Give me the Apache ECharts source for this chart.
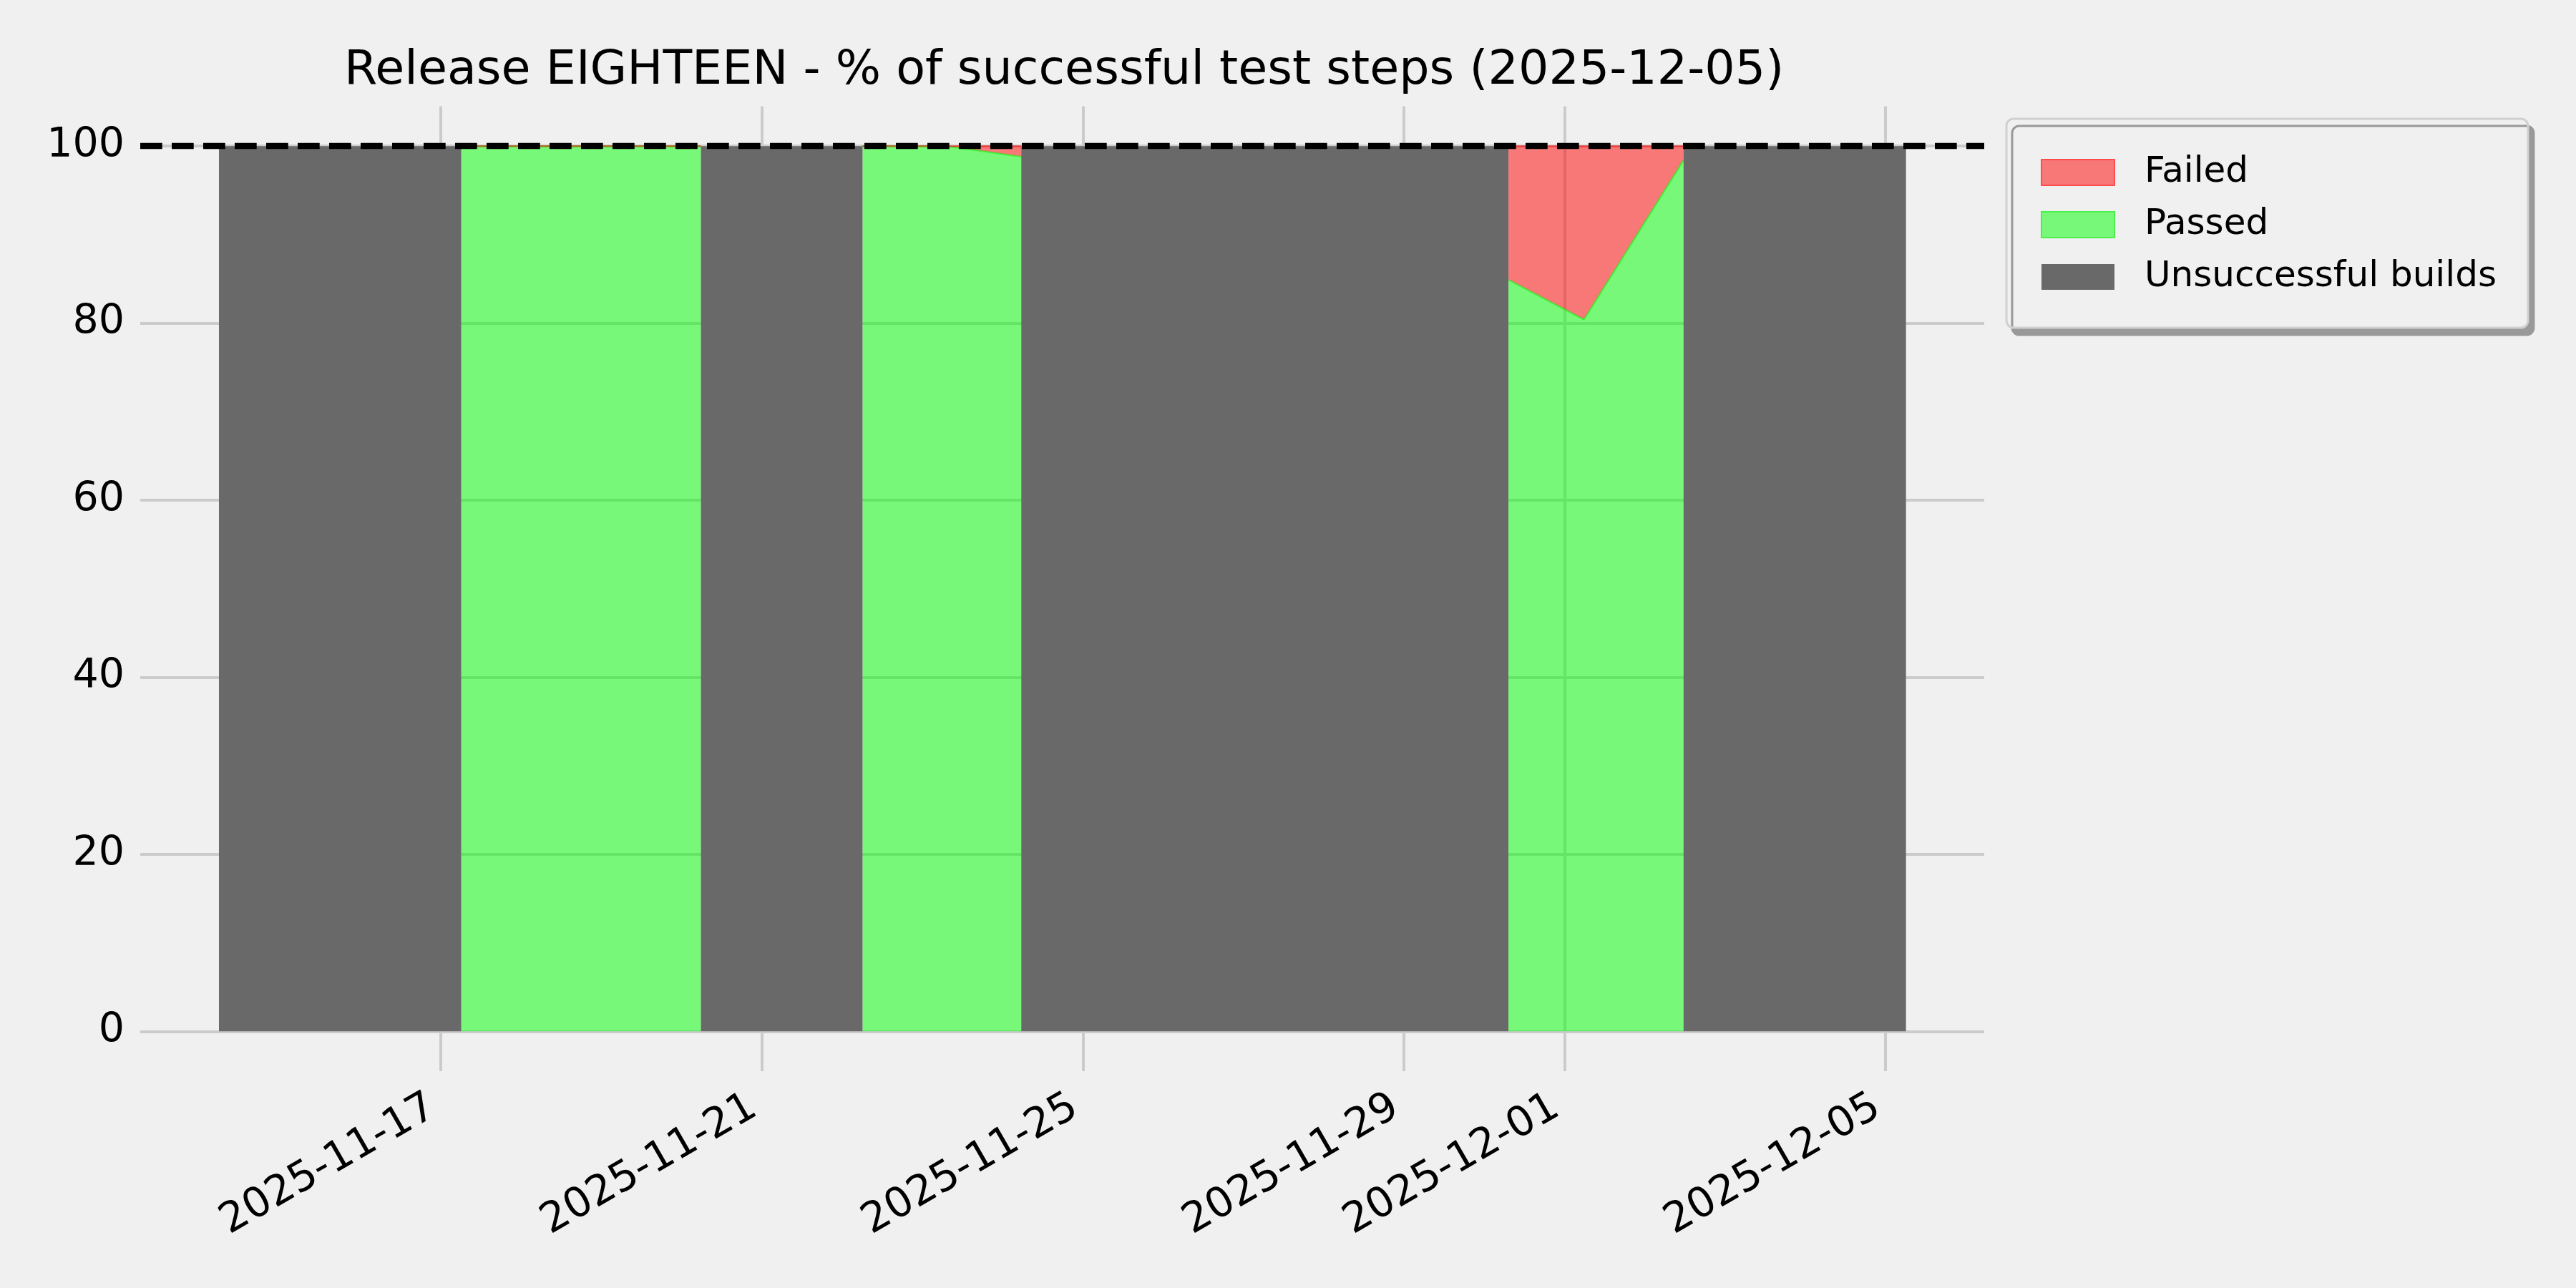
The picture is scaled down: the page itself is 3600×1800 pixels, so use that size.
<!DOCTYPE html>
<html>
<head>
<meta charset="utf-8">
<script src="https://cdn.jsdelivr.net/npm/echarts@6/dist/echarts.min.js"></script>
<style>
  html, body { margin: 0; padding: 0; background: #f0f0f0; }
  #chart { width: 3600px; height: 1800px; }
</style>
</head>
<body>
<div id="chart"></div>
<script>
// ---- data ----
const titleText = 'Release EIGHTEEN - % of successful test steps (2025-12-05)';
const seriesNames = ['Failed', 'Passed', 'Unsuccessful builds'];

// Builds with test results (gaps marked with '-')
const buildTimes = ['2025-11-17 06:06', '2025-11-20 05:46', '2025-11-21 00:00',
                    '2025-11-22 06:06', '2025-11-23 07:21', '2025-11-24 05:34', '2025-11-27 00:00',
                    '2025-11-30 07:16', '2025-12-01 05:51', '2025-12-02 11:37'];
const passedPct = [100, 100, '-', 100, 100, 98.8, '-', 84.9, 80.4, 98.4];
const failedPct = [0, 0, '-', 0, 0, 1.2, '-', 15.1, 19.6, 1.6];

// Periods of unsuccessful builds
const unsuccessfulStart = ['2025-11-14 05:38', '2025-11-20 05:46', '2025-11-24 05:34', '2025-12-02 11:37'];
const unsuccessfulEnd   = ['2025-11-17 06:06', '2025-11-22 06:06', '2025-11-30 07:16', '2025-12-05 06:09'];
const unsuccessfulPct   = [100, 100, 100, 100];

const xTickDates = ['2025-11-17', '2025-11-21', '2025-11-25', '2025-11-29', '2025-12-01', '2025-12-05'];
const yTicks = [0, 20, 40, 60, 80, 100];
const targetLine = 100;
const xRange = ['2025-11-13 06:06', '2025-12-06 05:33'];
const yRange = [-4.5, 104.5];

// ---- helpers ----
function toTs(s) {
  const m = s.match(/(\d+)-(\d+)-(\d+)(?:\s+(\d+):(\d+))?/);
  return new Date(+m[1], +m[2] - 1, +m[3], m[4] ? +m[4] : 0, m[5] ? +m[5] : 0).getTime();
}
function pad(n) { return (n < 10 ? '0' : '') + n; }
function fmtDate(v) {
  const d = new Date(v);
  return d.getFullYear() + '-' + pad(d.getMonth() + 1) + '-' + pad(d.getDate());
}

const passedData = buildTimes.map((t, i) => [toTs(t), passedPct[i]]);
const failedData = buildTimes.map((t, i) => [toTs(t), failedPct[i]]);
const unsuccessfulData = [];
unsuccessfulStart.forEach((s, i) => {
  const a = toTs(s), b = toTs(unsuccessfulEnd[i]);
  unsuccessfulData.push([a, unsuccessfulPct[i]], [b, unsuccessfulPct[i]], [b + 1, '-']);
});
const xTickValues = xTickDates.map(toTs);
const xMin = toTs(xRange[0]), xMax = toTs(xRange[1]);

const FONT = 'DejaVu Sans';
const GRID = '#cbcbcb';

const chart = echarts.init(document.getElementById('chart'), null, { renderer: 'canvas' });
chart.setOption({
  animation: false,
  backgroundColor: '#f0f0f0',
  title: {
    text: titleText,
    left: 481,
    top: 67,
    padding: 0,
    textStyle: { fontFamily: FONT, fontSize: 66.7, fontWeight: 'normal', color: '#000', lineHeight: 66 }
  },
  legend: {
    orient: 'vertical',
    left: 2804,
    top: 166,
    padding: [50, 44, 46, 48],
    itemWidth: 102,
    itemHeight: 36,
    itemGap: 23,
    icon: 'rect',
    backgroundColor: '#f0f0f0',
    borderColor: '#d0d0d0',
    borderWidth: 3,
    borderRadius: 10,
    shadowColor: '#999999',
    shadowBlur: 0,
    shadowOffsetX: 8,
    shadowOffsetY: 10,
    textStyle: { fontFamily: FONT, fontSize: 50, color: '#000', padding: [0, 0, 0, 37] },
    data: [
      { name: seriesNames[0], itemStyle: { color: '#f87878', borderColor: '#ff4c4c', borderWidth: 2 } },
      { name: seriesNames[1], itemStyle: { color: '#78f878', borderColor: '#4cf04c', borderWidth: 2 } },
      { name: seriesNames[2], itemStyle: { color: '#696969', borderWidth: 0 } }
    ]
  },
  grid: { left: 196, right: 827, top: 148.5, bottom: 303, containLabel: false },
  xAxis: [
    {
      // visible axis: tick labels and vertical grid lines
      type: 'value',
      position: 'bottom',
      min: xMin,
      max: xMax,
      axisLine: { show: false, onZero: false },
      axisTick: { show: false, customValues: xTickValues },
      splitLine: { show: true, lineStyle: { color: GRID, width: 4 } },
      axisLabel: {
        customValues: xTickValues,
        formatter: fmtDate,
        rotate: 30,
        margin: 40,
        padding: [0, 13, 0, 0],
        fontFamily: FONT,
        fontSize: 58,
        color: '#000',
        hideOverlap: false
      }
    },
    {
      // data axis (time), same range, drawn invisibly
      type: 'time',
      position: 'bottom',
      min: xMin,
      max: xMax,
      show: false,
      axisLine: { show: false, onZero: false },
      splitLine: { show: false }
    }
  ],
  yAxis: {
    type: 'value',
    min: yRange[0],
    max: yRange[1],
    axisLine: { show: false },
    axisTick: { show: false, customValues: yTicks },
    splitLine: { show: true, lineStyle: { color: GRID, width: 4 } },
    axisLabel: {
      customValues: yTicks,
      margin: 22,
      fontFamily: FONT,
      fontSize: 57,
      color: '#000'
    }
  },
  series: [
    {
      name: seriesNames[1],
      type: 'line',
      xAxisIndex: 1,
      stack: 'tests',
      data: passedData,
      symbol: 'none',
      connectNulls: false,
      z: 2,
      lineStyle: { color: 'rgba(0,255,0,0.5)', width: 2.5 },
      itemStyle: { color: '#78f878' },
      areaStyle: { color: 'rgba(0,255,0,0.5)', opacity: 1 }
    },
    {
      name: seriesNames[0],
      type: 'line',
      xAxisIndex: 1,
      stack: 'tests',
      data: failedData,
      symbol: 'none',
      connectNulls: false,
      z: 2,
      lineStyle: { color: 'rgba(255,0,0,0.5)', width: 2.5 },
      itemStyle: { color: '#f87878' },
      areaStyle: { color: 'rgba(255,0,0,0.5)', opacity: 1 }
    },
    {
      name: seriesNames[2],
      type: 'line',
      xAxisIndex: 1,
      data: unsuccessfulData,
      symbol: 'none',
      connectNulls: false,
      z: 3,
      lineStyle: { width: 0, color: '#696969' },
      itemStyle: { color: '#696969' },
      areaStyle: { color: '#696969', opacity: 1 },
      markLine: {
        silent: true,
        symbol: 'none',
        label: { show: false },
        lineStyle: { color: '#000', width: 8.3, type: [30.7, 13.3], opacity: 1 },
        data: [{ yAxis: targetLine }]
      }
    }
  ]
});
</script>
</body>
</html>
